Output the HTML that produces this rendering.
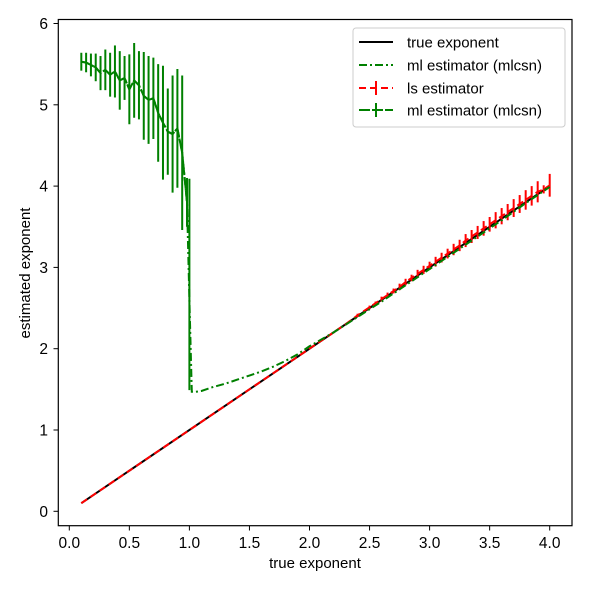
<!DOCTYPE html>
<html><head><meta charset="utf-8"><style>
body{margin:0;background:#fff}
svg text{font-family:"Liberation Sans",sans-serif;fill:#000}
</style></head><body>
<svg id="chart" width="590" height="590" viewBox="0 0 590 590" xmlns="http://www.w3.org/2000/svg">
<rect width="590" height="590" fill="#fff"/>
<g id="marks"></g>
<rect x="58.3" y="19.5" width="513.7" height="506.2" fill="none" stroke="#000" stroke-width="1.2"/>
<g id="axes"></g>
<text x="315" y="568" font-size="15" text-anchor="middle">true exponent</text>
<text transform="translate(30,273) rotate(-90)" font-size="15" text-anchor="middle">estimated exponent</text>
<g>
<rect x="353" y="28" width="212" height="99" rx="3" fill="#fff" fill-opacity="0.85" stroke="#ccc"/>
<line x1="359" y1="42" x2="393" y2="42" stroke="#000" stroke-width="2"/>
<text x="407" y="47.5" font-size="15">true exponent</text>
<line x1="359" y1="65" x2="393" y2="65" stroke="green" stroke-width="2" stroke-dasharray="8,3,2,3"/>
<text x="407" y="70.5" font-size="15">ml estimator (mlcsn)</text>
<line x1="359" y1="88" x2="393" y2="88" stroke="red" stroke-width="2" stroke-dasharray="7,4"/>
<line x1="376" y1="81" x2="376" y2="95" stroke="red" stroke-width="2"/>
<text x="407" y="93.5" font-size="15">ls estimator</text>
<line x1="359" y1="110" x2="393" y2="110" stroke="green" stroke-width="2" stroke-dasharray="11,2"/>
<line x1="376" y1="103" x2="376" y2="117" stroke="green" stroke-width="2"/>
<text x="407" y="115.5" font-size="15">ml estimator (mlcsn)</text>
</g>
</svg>
<script>
const xTicks=[0,0.5,1,1.5,2,2.5,3,3.5,4];
const xTickLabels=["0.0","0.5","1.0","1.5","2.0","2.5","3.0","3.5","4.0"];
const yTicks=[0,1,2,3,4,5,6];
const yTickLabels=["0","1","2","3","4","5","6"];
const trueX=[0.1,4.0];
const trueY=[0.1,4.0];
const mlBarX=[0.1,0.14,0.18,0.22,0.26,0.3,0.34,0.38,0.42,0.46,0.5,0.54,0.58,0.62,0.66,0.7,0.74,0.78,0.82,0.86,0.9,0.94,0.98,1.0];
const mlBarY=[5.53,5.52,5.49,5.46,5.39,5.43,5.37,5.41,5.30,5.33,5.19,5.30,5.24,5.11,5.06,5.08,4.90,4.78,4.67,4.64,4.71,4.41,3.8,2.79];
const mlBarErr=[0.11,0.12,0.14,0.17,0.21,0.25,0.27,0.32,0.36,0.27,0.43,0.46,0.42,0.54,0.54,0.50,0.60,0.70,0.53,0.72,0.73,0.95,0.30,1.30];
const mlX=[0.1,0.14,0.18,0.22,0.26,0.3,0.34,0.38,0.42,0.46,0.5,0.54,0.58,0.62,0.66,0.7,0.74,0.78,0.82,0.86,0.9,0.94,0.98,1.0,1.02,1.05,1.1,1.2,1.3,1.4,1.5,1.6,1.7,1.8,1.9,2.0,2.2,2.4,2.6,2.8,3.0,3.2,3.4,3.6,3.8,4.0];
const mlY=[5.53,5.52,5.49,5.46,5.39,5.43,5.37,5.41,5.30,5.33,5.19,5.30,5.24,5.11,5.06,5.08,4.90,4.78,4.67,4.64,4.71,4.41,3.8,2.6,1.47,1.47,1.48,1.53,1.57,1.62,1.67,1.72,1.78,1.85,1.93,2.03,2.2,2.39,2.58,2.78,2.98,3.18,3.38,3.58,3.79,3.99];
const lsX=[0.1,0.2,0.3,0.4,0.5,0.6,0.7,0.8,0.9,1.0,1.1,1.2,1.3,1.4,1.5,1.6,1.7,1.8,1.9,2.0,2.1,2.2,2.3,2.4,2.5,2.55,2.6,2.65,2.7,2.75,2.8,2.85,2.9,2.95,3.0,3.05,3.1,3.15,3.2,3.25,3.3,3.35,3.4,3.45,3.5,3.55,3.6,3.65,3.7,3.75,3.8,3.85,3.9,3.95,4.0];
const lsY=[0.1,0.2,0.3,0.4,0.5,0.6,0.7,0.8,0.9,1.0,1.1,1.2,1.3,1.4,1.5,1.6,1.7,1.8,1.9,2.0,2.1,2.2,2.3,2.41,2.51,2.56,2.61,2.66,2.71,2.76,2.82,2.87,2.92,2.97,3.02,3.07,3.12,3.17,3.22,3.27,3.33,3.38,3.43,3.48,3.53,3.58,3.63,3.68,3.73,3.78,3.83,3.88,3.93,3.96,4.01];
const lsErr=[0,0,0,0,0,0,0,0,0,0,0,0,0,0,0,0,0,0,0,0,0.01,0.01,0.01,0.02,0.02,0.02,0.03,0.03,0.03,0.04,0.04,0.04,0.05,0.05,0.05,0.06,0.06,0.06,0.07,0.07,0.08,0.08,0.08,0.09,0.09,0.1,0.1,0.1,0.11,0.11,0.12,0.12,0.13,0.05,0.14];
const sx=v=>69.3+v*120.1, sy=v=>511.3-v*81.3;
const NS="http://www.w3.org/2000/svg";
const marks=document.getElementById('marks'), axes=document.getElementById('axes');
function mk(tag,attrs,parent){const e=document.createElementNS(NS,tag);for(const k in attrs)e.setAttribute(k,attrs[k]);parent.appendChild(e);return e;}
function poly(xs,ys,stroke,dash,name){
  const p=mk('polyline',{points:xs.map((x,i)=>sx(x)+','+sy(ys[i])).join(' '),fill:'none',stroke:stroke,'stroke-width':2,'stroke-dasharray':dash},marks);
  
  
}
function bars(xs,ys,es,color,name){
  xs.forEach((x,i)=>{if(!es[i])return;
    const l=mk('line',{x1:sx(x),x2:sx(x),y1:sy(ys[i]-es[i]),y2:sy(ys[i]+es[i]),stroke:color,'stroke-width':2},marks);
    
    
  });
}
poly(trueX,trueY,'#000','none','true-exponent-line');
bars(lsX,lsY,lsErr,'red','ls-errorbar');
poly(lsX,lsY,'red','7,4','ls-estimator-line');
poly(mlX,mlY,'green','8,3,2,3','ml-estimator-line');
bars(mlBarX,mlBarY,mlBarErr,'green','ml-errorbar');
poly(mlBarX.slice(0,23),mlBarY.slice(0,23),'green','11,2','ml-estimator-errorbar-line');
xTicks.forEach((v,i)=>{
  const l=mk('line',{x1:sx(v),x2:sx(v),y1:525.7,y2:530.5,stroke:'#000','stroke-width':1},axes);
  
  
  const t=mk('text',{x:sx(v),y:548,'font-size':15.5,'text-anchor':'middle'},axes);
  t.textContent=xTickLabels[i];
  
  
});
yTicks.forEach((v,i)=>{
  const l=mk('line',{x1:53.5,x2:58.3,y1:sy(v),y2:sy(v),stroke:'#000','stroke-width':1},axes);
  
  
  const t=mk('text',{x:48,y:sy(v)+5.5,'font-size':15.5,'text-anchor':'end'},axes);
  t.textContent=yTickLabels[i];
  
  
});
</script>
</body></html>
